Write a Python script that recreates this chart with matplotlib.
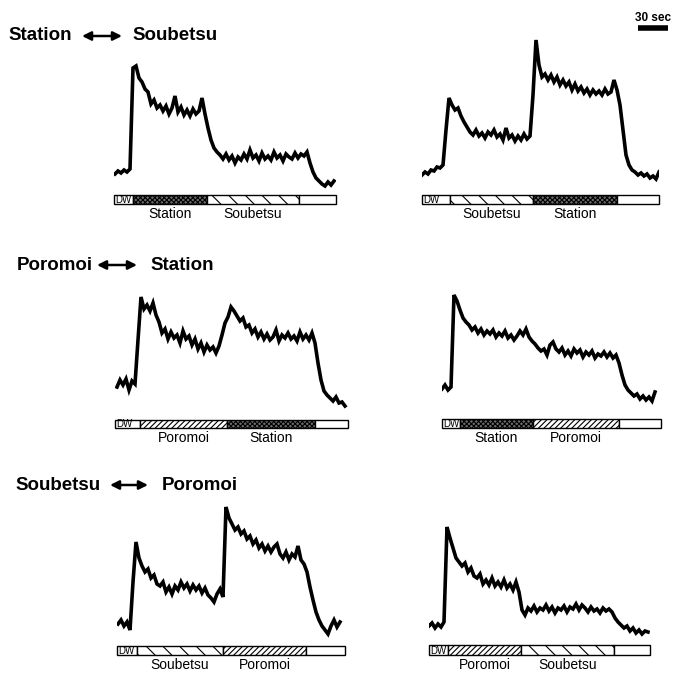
import numpy as np
import matplotlib
matplotlib.use("Agg")
import matplotlib.pyplot as plt
from matplotlib.patches import Rectangle, FancyArrowPatch

plt.rcParams['font.family'] = ['Liberation Sans', 'DejaVu Sans']
plt.rcParams['hatch.linewidth'] = 0.8

# ---------------- data (time in s, response in arbitrary units) ----------------
DT = 3

# Panel 1: DW -> Station -> Soubetsu
p1_stim = ["Station", "Soubetsu"]
p1_bounds = [19, 93, 185, 222]          # end of DW, stim1, stim2, record
p1_t0 = 1
p1_values = [16, 19, 17, 20, 18, 21, 122, 124, 112, 108, 101, 98, 86, 90, 82, 85,
             79, 84, 76, 82, 94, 78, 83, 75, 80, 74, 81, 76, 79, 92, 76, 62, 50, 42,
             38, 35, 31, 36, 30, 34, 27, 33, 30, 36, 31, 40, 32, 35, 29, 37, 31, 34,
             30, 38, 32, 35, 29, 36, 33, 31, 37, 32, 36, 34, 38, 27, 18, 12, 9, 6, 4,
             8, 5, 9]

# Panel 2: DW -> Soubetsu -> Station
p2_stim = ["Soubetsu", "Station"]
p2_bounds = [28, 111, 195, 237]
p2_t0 = 0
p2_values = [15, 18, 16, 20, 19, 23, 22, 25, 60, 92, 85, 80, 82, 74, 68, 63, 58, 55,
             60, 54, 57, 52, 58, 55, 60, 53, 56, 50, 62, 52, 55, 49, 54, 50, 56, 51,
             54, 95, 150, 125, 113, 116, 110, 115, 108, 113, 105, 110, 104, 108, 100,
             106, 99, 103, 97, 101, 95, 100, 96, 99, 95, 101, 96, 98, 110, 100, 85, 60,
             35, 25, 20, 18, 15, 17, 14, 16, 12, 14, 11, 18]

# Panel 3: DW -> Poromoi -> Station
p3_stim = ["Poromoi", "Station"]
p3_bounds = [25, 112, 200, 233]
p3_t0 = 2
p3_values = [28, 35, 30, 36, 25, 34, 31, 75, 118, 106, 110, 104, 112, 100, 93, 82,
             86, 76, 83, 77, 80, 72, 84, 76, 79, 70, 76, 66, 72, 63, 70, 65, 68, 62,
             69, 80, 92, 98, 108, 104, 99, 94, 97, 88, 90, 82, 86, 78, 83, 76, 81, 75,
             78, 85, 74, 80, 77, 82, 76, 79, 74, 83, 76, 80, 75, 82, 72, 52, 35, 24,
             20, 17, 14, 18, 12, 13, 9]

# Panel 4: DW -> Station -> Poromoi
p4_stim = ["Station", "Poromoi"]
p4_bounds = [18, 91, 177, 219]
p4_t0 = 0
p4_values = [26, 30, 25, 28, 120, 114, 105, 97, 93, 90, 85, 88, 82, 86, 80, 84, 81,
             85, 78, 82, 79, 84, 77, 80, 75, 79, 84, 80, 86, 78, 74, 71, 67, 64, 66,
             60, 70, 73, 66, 63, 67, 60, 64, 59, 66, 62, 65, 58, 63, 60, 64, 57, 61,
             59, 63, 58, 62, 57, 60, 52, 40, 30, 25, 22, 19, 21, 16, 19, 15, 18, 14, 23]

# Panel 5: DW -> Soubetsu -> Poromoi
p5_stim = ["Soubetsu", "Poromoi"]
p5_bounds = [20, 106, 189, 228]
p5_t0 = 1
p5_values = [18, 22, 16, 20, 12, 60, 100, 84, 76, 70, 73, 64, 67, 58, 56, 60, 50, 55,
             48, 56, 52, 60, 54, 58, 51, 57, 52, 56, 49, 54, 47, 44, 40, 48, 53, 45,
             135, 124, 118, 112, 115, 108, 111, 103, 106, 98, 102, 94, 98, 91, 96, 90,
             95, 98, 88, 84, 90, 82, 88, 85, 96, 82, 78, 70, 55, 42, 30, 22, 16, 12,
             8, 16, 22, 15, 20]

# Panel 6: DW -> Poromoi -> Soubetsu
p6_stim = ["Poromoi", "Soubetsu"]
p6_bounds = [19, 92, 185, 221]
p6_t0 = 0
p6_values = [16, 19, 14, 18, 15, 20, 115, 104, 94, 84, 80, 76, 79, 70, 74, 66, 64, 68,
             58, 62, 57, 64, 56, 60, 55, 62, 54, 58, 52, 60, 50, 32, 27, 34, 31, 36,
             30, 34, 32, 37, 31, 35, 29, 34, 32, 36, 30, 35, 33, 38, 32, 37, 34, 30,
             35, 31, 33, 29, 34, 31, 33, 30, 24, 20, 17, 14, 16, 11, 14, 9, 12, 8, 11, 10]

row_titles = [("Station", "Soubetsu"), ("Poromoi", "Station"), ("Soubetsu", "Poromoi")]
scale_sec = 30

# ---------------- layout (pixels) ----------------
W, H = 673, 674
fig = plt.figure(figsize=(W / 100, H / 100), dpi=100)

def px_axes(x0, y0, x1, y1):
    ax = fig.add_axes([x0 / W, 1 - y1 / H, (x1 - x0) / W, (y1 - y0) / H])
    ax.set_axis_off()
    return ax

styles = {
    "Station": dict(facecolor="0.42", hatch="xxxxxxx"),
    "Soubetsu": dict(facecolor="white", hatch="\\\\"),
    "Poromoi": dict(facecolor="white", hatch="//////"),
}

panels = [
    # bar x0, bar y0, bar y1, trace top, trace bottom, data
    (114, 195, 204, 25, 190, p1_stim, p1_bounds, p1_t0, p1_values),
    (422, 195, 204, 25, 190, p2_stim, p2_bounds, p2_t0, p2_values),
    (115, 420, 428, 275, 415, p3_stim, p3_bounds, p3_t0, p3_values),
    (442, 419, 428, 275, 415, p4_stim, p4_bounds, p4_t0, p4_values),
    (117, 646, 655, 495, 642, p5_stim, p5_bounds, p5_t0, p5_values),
    (429, 645, 655, 495, 642, p6_stim, p6_bounds, p6_t0, p6_values),
]

trace_axes = []
for (bx0, by0, by1, ty0, ty1, stim, bounds, t0, vals) in panels:
    total = bounds[-1]
    # trace
    ax = px_axes(bx0, ty0, bx0 + total, ty1)
    t = t0 + DT * np.arange(len(vals))
    ax.plot(t, vals, color="black", lw=2.6, solid_joinstyle="miter")
    ax.set_xlim(0, total)
    ax.set_ylim(0, ty1 - ty0)
    trace_axes.append(ax)
    # stimulus bar
    bax = px_axes(bx0, by0, bx0 + total, by1)
    bax.set_xlim(0, total)
    bax.set_ylim(0, 1)
    edges = [0] + bounds
    bax.add_patch(Rectangle((edges[0], 0), edges[1] - edges[0], 1,
                            facecolor="white", edgecolor="black", lw=1.0, clip_on=False))
    bax.text(edges[0] + 1.5, 0.45, "DW", fontsize=7, va="center", ha="left")
    for i, name in enumerate(stim):
        a, b = edges[i + 1], edges[i + 2]
        bax.add_patch(Rectangle((a, 0), b - a, 1, edgecolor="black", lw=1.0,
                                clip_on=False, **styles[name]))
        bax.annotate(name, xy=((a + b) / 2, 0), xycoords=("data", "axes fraction"),
                     xytext=(0, -7.5), textcoords="offset points",
                     ha="center", va="center", fontsize=10)
    bax.add_patch(Rectangle((edges[3], 0), edges[4] - edges[3], 1,
                            facecolor="white", edgecolor="black", lw=1.0, clip_on=False))

# scale bar (30 s) on panel 2
sax = trace_axes[1]
sax.plot([216, 216 + scale_sec], [162, 162], color="black", lw=4,
         solid_capstyle="butt", clip_on=False)
sax.text(216 + scale_sec / 2, 166, f"{scale_sec} sec", ha="center", va="bottom",
         fontsize=8.5, fontweight="bold")

# row titles with double arrows
title_pos = [(8, 36, 82, 122, 132), (17, 265, 97, 137, 150), (15, 485, 110, 148, 162)]
for (w1, w2), (x0, y, a0, a1, x2) in zip(row_titles, title_pos):
    fy = 1 - y / H
    fig.text(x0 / W, fy, w1, fontsize=13.5, fontweight="bold", va="center", ha="left")
    fig.text(x2 / W, fy, w2, fontsize=13.5, fontweight="bold", va="center", ha="left")
    fig.add_artist(FancyArrowPatch(
        (a0 / W, fy), (a1 / W, fy), transform=fig.transFigure,
        arrowstyle="<|-|>", mutation_scale=13, color="black", lw=1.8,
        shrinkA=0, shrinkB=0))

fig.savefig("out.png", dpi=100, facecolor="white")
